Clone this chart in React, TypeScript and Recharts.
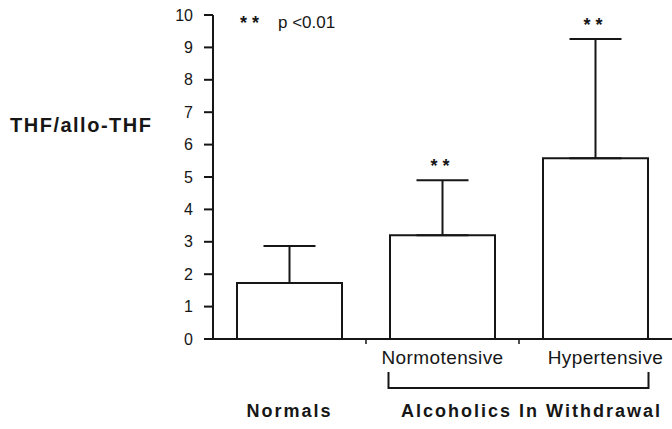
import * as React from "react";
import { Bar, BarChart, ErrorBar, LabelList, XAxis, YAxis } from "recharts";

const groups = ["Normals", "Normotensive", "Hypertensive"];
const means = [1.73, 3.2, 5.58];
const sds = [1.14, 1.7, 3.68];
const sigMarks = ["", "**", "**"];
const yTicks = [0, 1, 2, 3, 4, 5, 6, 7, 8, 9, 10];

const FONT = "'Liberation Sans', Arial, Helvetica, sans-serif";
const INK = "#161616";

const rows = groups.map((g, i) => ({
  group: g,
  mean: means[i],
  err: [0, sds[i]],
  sig: sigMarks[i],
}));

function SigLabel(props: any) {
  const { x, y, width, height, index, value } = props;
  if (!value) return null;
  const base = y + height;
  const capY = base - (height * (means[index] + sds[index])) / means[index];
  return (
    <text x={x + width / 2} y={capY - 8} textAnchor="middle" fontFamily={FONT} fontSize={18} fontWeight="bold" letterSpacing={5} fill={INK}>
      {value}
    </text>
  );
}

function GroupTick(props: any) {
  const { x, y, index, payload } = props;
  const half = 76.5;
  const label = payload.value;
  if (index === 0) {
    return (
      <g>
        <line x1={x + half} y1={y} x2={x + half} y2={y + 5} stroke={INK} strokeWidth={1.5} />
        <text x={x} y={y + 78} textAnchor="middle" fontFamily={FONT} fontSize={18} fontWeight="bold" letterSpacing={2} fill={INK}>
          {label}
        </text>
      </g>
    );
  }
  if (index === 1) {
    return (
      <g>
        <line x1={x + half} y1={y} x2={x + half} y2={y + 5} stroke={INK} strokeWidth={1.5} />
        <text x={x} y={y + 25} textAnchor="middle" fontFamily={FONT} fontSize={19} letterSpacing={0.4} fill={INK}>
          {label}
        </text>
        <path d={`M${x - 54},${y + 33} V${y + 49} H${x + half}`} fill="none" stroke={INK} strokeWidth={2} />
      </g>
    );
  }
  return (
    <g>
      <text x={x + 10} y={y + 25} textAnchor="middle" fontFamily={FONT} fontSize={19} letterSpacing={0.4} fill={INK}>
        {label}
      </text>
      <path d={`M${x - half},${y + 49} H${x + 53} V${y + 33}`} fill="none" stroke={INK} strokeWidth={2} />
      <text x={x - 64} y={y + 78} textAnchor="middle" fontFamily={FONT} fontSize={18} fontWeight="bold" letterSpacing={2} fill={INK}>
        Alcoholics In Withdrawal
      </text>
    </g>
  );
}

function Notes() {
  return (
    <g>
      <text x={10} y={132} fontFamily={FONT} fontSize={20} fontWeight="bold" letterSpacing={1.5} fill={INK}>
        THF/allo-THF
      </text>
      <text x={240} y={29} fontFamily={FONT} fontSize={18} fontWeight="bold" letterSpacing={5} fill={INK}>
        **
      </text>
      <text x={278} y={28} fontFamily={FONT} fontSize={17} fill={INK}>
        p &lt;0.01
      </text>
    </g>
  );
}

export default function App() {
  return (
    <div style={{ position: "absolute", left: 0, top: 0, background: "#fff" }}>
      <BarChart
        width={672}
        height={429}
        data={rows}
        margin={{ top: 15, right: 0, bottom: 0, left: 0 }}
        barSize={105}
      >
        <XAxis
          dataKey="group"
          height={90}
          tickLine={false}
          tickSize={0}
          tickMargin={0}
          interval={0}
          axisLine={{ stroke: INK, strokeWidth: 2 }}
          tick={<GroupTick />}
        />
        <YAxis
          width={213}
          domain={[0, 10]}
          ticks={yTicks}
          interval={0}
          tickSize={9}
          tickMargin={11}
          axisLine={{ stroke: INK, strokeWidth: 2 }}
          tickLine={{ stroke: INK, strokeWidth: 2 }}
          tick={{ fill: INK, fontSize: 16, fontFamily: FONT }}
          label={() => <Notes />}
        />
        <Bar dataKey="mean" fill="#fff" stroke={INK} strokeWidth={2} isAnimationActive={false}>
          <ErrorBar dataKey="err" width={26} stroke={INK} strokeWidth={2} direction="y" />
          <LabelList dataKey="sig" content={<SigLabel />} />
        </Bar>
      </BarChart>
    </div>
  );
}
